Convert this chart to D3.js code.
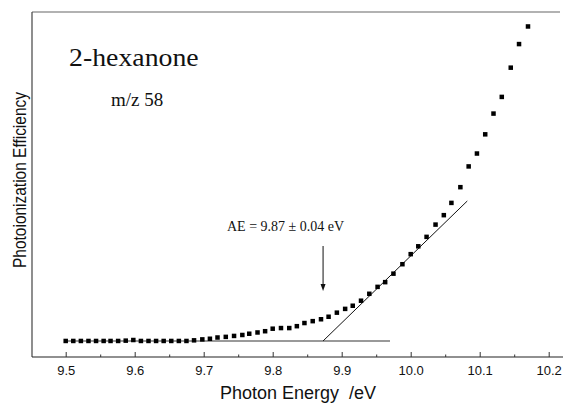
<!DOCTYPE html>
<html>
<head>
<meta charset="utf-8">
<script src="https://cdn.jsdelivr.net/npm/d3@7"></script>
<style>
  body { margin: 0; background: #fff; }
  .sans { font-family: "Liberation Sans", Arial, sans-serif; }
  .serif { font-family: "Liberation Serif", "Times New Roman", serif; }
  text { white-space: pre; }
</style>
</head>
<body>
<svg id="chart"></svg>
<script>
// Chart data
var energy = [9.500, 9.511, 9.522, 9.533, 9.544, 9.555, 9.565, 9.576, 9.587, 9.598,
              9.609, 9.620, 9.631, 9.642, 9.653, 9.664, 9.675, 9.686, 9.698, 9.709,
              9.720, 9.732, 9.744, 9.756, 9.766, 9.778, 9.789, 9.800, 9.812, 9.824,
              9.835, 9.846, 9.858, 9.870, 9.881, 9.893, 9.905, 9.916, 9.928, 9.940,
              9.952, 9.963, 9.975, 9.988, 10.000, 10.011, 10.023, 10.036, 10.048, 10.059,
              10.072, 10.084, 10.096, 10.108, 10.120, 10.132, 10.145, 10.157, 10.170];
var efficiency = [0.000, 0.000, 0.000, 0.000, 0.000, 0.000, 0.000, 0.000, 0.001, 0.003,
                  0.000, 0.000, 0.000, 0.000, 0.000, 0.000, 0.000, 0.002, 0.005, 0.007,
                  0.011, 0.013, 0.016, 0.019, 0.023, 0.027, 0.031, 0.039, 0.041, 0.041,
                  0.047, 0.057, 0.063, 0.069, 0.077, 0.090, 0.102, 0.112, 0.128, 0.150,
                  0.172, 0.187, 0.214, 0.244, 0.276, 0.301, 0.331, 0.370, 0.400, 0.439,
                  0.489, 0.555, 0.596, 0.657, 0.723, 0.776, 0.869, 0.944, 1.000];
var xTicks = [9.5, 9.6, 9.7, 9.8, 9.9, 10.0, 10.1, 10.2];
var xMinor = [9.55, 9.65, 9.75, 9.85, 9.95, 10.05, 10.15];
var baseFit = [[9.50, 0], [9.97, 0]];       // background level
var riseFit = [[9.873, 0], [10.082, 0.445]]; // linear onset fit
var aeValue = 9.873;

var w = 563, h = 404;
var frameL = 32, frameT = 12, frameB = 357;

var svg = d3.select("#chart").attr("width", w).attr("height", h);

var x = d3.scaleLinear().domain([9.5, 10.2]).range([65.7, 548.7]);
var y = d3.scaleLinear().domain([-0.051, 1.046]).range([frameB, frameT]);

// frame: top and left edges, bottom axis line
svg.append("line").attr("x1", frameL).attr("x2", 560).attr("y1", frameT).attr("y2", frameT)
    .attr("stroke", "#666").attr("stroke-width", 1.2);
svg.append("line").attr("x1", frameL).attr("x2", frameL).attr("y1", frameT).attr("y2", frameB)
    .attr("stroke", "#444").attr("stroke-width", 1.2);
svg.append("line").attr("x1", frameL).attr("x2", w).attr("y1", frameB).attr("y2", frameB)
    .attr("stroke", "#222").attr("stroke-width", 1.2);

// major ticks (inward) with labels
var xAxis = svg.append("g").attr("class", "sans")
    .attr("transform", "translate(0," + frameB + ")")
    .call(d3.axisBottom(x).tickValues(xTicks).tickSize(-5).tickPadding(9)
        .tickFormat(d3.format(".1f")));
xAxis.select(".domain").remove();
xAxis.selectAll("text").attr("font-size", 13).attr("fill", "#111")
    .attr("font-family", "Liberation Sans, Arial, sans-serif");
xAxis.selectAll("line").attr("stroke", "#333");

// minor ticks
var xAxisMinor = svg.append("g")
    .attr("transform", "translate(0," + frameB + ")")
    .call(d3.axisBottom(x).tickValues(xMinor).tickSize(-2.5).tickFormat(""));
xAxisMinor.select(".domain").remove();
xAxisMinor.selectAll("line").attr("stroke", "#333");

// axis titles
svg.append("text").attr("class", "sans")
    .attr("x", 298).attr("y", 399)
    .attr("text-anchor", "middle").attr("font-size", 18).attr("fill", "#111")
    .text("Photon Energy  /eV");
svg.append("text").attr("class", "sans")
    .attr("transform", "translate(25.5,180) rotate(-90) scale(0.86,1)")
    .attr("text-anchor", "middle").attr("font-size", 18).attr("fill", "#111")
    .text("Photoionization Efficiency");

// fit lines
var line = d3.line().x(function (d) { return x(d[0]); }).y(function (d) { return y(d[1]); });
svg.append("path").attr("d", line(baseFit)).attr("fill", "none")
    .attr("stroke", "#777").attr("stroke-width", 1.6);
svg.append("path").attr("d", line(riseFit)).attr("fill", "none")
    .attr("stroke", "#111").attr("stroke-width", 1);

// data points
var sz = 4.5;
svg.selectAll(".pt").data(energy).enter().append("rect")
    .attr("class", "pt")
    .attr("x", function (d) { return x(d) - sz / 2; })
    .attr("y", function (d, i) { return y(efficiency[i]) - sz / 2; })
    .attr("width", sz).attr("height", sz)
    .attr("fill", "#000");

// labels
svg.append("text").attr("class", "serif")
    .attr("transform", "translate(69,66) scale(1.07,1)")
    .attr("font-size", 26).attr("fill", "#111")
    .text("2-hexanone");
svg.append("text").attr("class", "serif")
    .attr("x", 111).attr("y", 105.5).attr("font-size", 19).attr("fill", "#111")
    .text("m/z 58");
svg.append("text").attr("class", "serif")
    .attr("x", 227).attr("y", 231).attr("font-size", 14).attr("fill", "#111")
    .text("AE = 9.87 \u00b1 0.04 eV");

// arrow to onset
var ax = x(aeValue);
svg.append("line").attr("x1", ax).attr("x2", ax).attr("y1", 246).attr("y2", 286)
    .attr("stroke", "#111").attr("stroke-width", 1);
svg.append("path")
    .attr("d", "M" + (ax - 2.5) + ",284 L" + (ax + 2.5) + ",284 L" + ax + ",291 Z")
    .attr("fill", "#111");
</script>
</body>
</html>
